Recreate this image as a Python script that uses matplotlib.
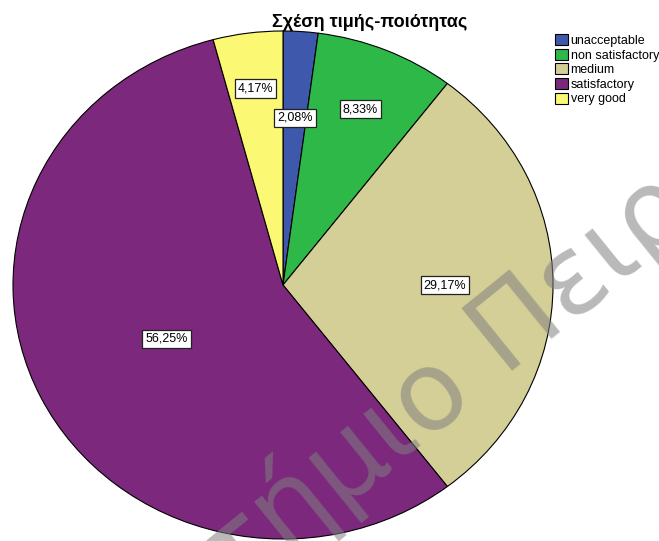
import numpy as np
import matplotlib
matplotlib.use("Agg")
import matplotlib.pyplot as plt

plt.rcParams["font.family"] = ["Liberation Sans", "DejaVu Sans"]

# Σχέση τιμής-ποιότητας: πλήθος απαντήσεων ανά κατηγορία (Ν = 48)
categories = ["unacceptable", "non satisfactory", "medium", "satisfactory", "very good"]
counts = [1, 4, 14, 27, 2]
colors = ["#3E58AC", "#2EB848", "#D4CE97", "#7C287C", "#FBF873"]

# απόσταση της ετικέτας από το κέντρο (σε μονάδες ακτίνας)
label_radius = [0.66, 0.75, 0.60, 0.48, 0.78]

W, H = 659, 541
fig = plt.figure(figsize=(W / 100, H / 100), dpi=100)
ax = fig.add_axes([13 / W, 2 / H, 540 / W, 508 / H])

wedges, _ = ax.pie(
    counts,
    colors=colors,
    startangle=90,
    counterclock=False,
    wedgeprops=dict(edgecolor="black", linewidth=0.8),
)
for w in wedges:
    w.set_clip_on(False)

# ελαφρώς ελλειπτική πίτα όπως στο SPSS
ax.set_aspect("auto")
ax.set_xlim(-1, 1)
ax.set_ylim(-1, 1)
ax.axis("off")

total = sum(counts)
cum = np.cumsum(counts)
for c, cs, r in zip(counts, cum, label_radius):
    pct = 100 * c / total
    theta = np.deg2rad(90 - 360 * (cs - c / 2) / total)
    txt = f"{pct:.2f}%".replace(".", ",")
    ax.text(
        r * np.cos(theta), r * np.sin(theta), txt,
        ha="center", va="center", fontsize=9, zorder=5,
        bbox=dict(boxstyle="square,pad=0.25", facecolor="white",
                  edgecolor="#222222", linewidth=0.9),
    )

fig.text(370 / W, 1 - 27 / H, "Σχέση τιμής-ποιότητας",
         ha="center", va="baseline", fontsize=13, fontweight="bold")

fig.legend(
    handles=wedges, labels=categories,
    loc="upper left", bbox_to_anchor=(555 / W, 1 - 34 / H),
    frameon=False, fontsize=9,
    handlelength=1.0, handleheight=1.0, handletextpad=0.25,
    labelspacing=0.14, borderpad=0, borderaxespad=0,
)

# υδατογράφημα: το κενό ανάμεσα στις δύο λέξεις πέφτει δεξιά από το κέντρο
wm_first = "Πανεπιστήμιο"
wm_text = wm_first + " Πειραιώς"
wm_font = "DejaVu Sans"
wm_size = 80
wm_rot = 39
renderer = fig.canvas.get_renderer()
probe = fig.text(0, 0, wm_first, fontsize=wm_size, family=wm_font)
w1 = probe.get_window_extent(renderer).width
probe.remove()
gap_x, gap_y = 477, 400  # σημείο της γραμμής βάσης μετά το "ο" (pixel από πάνω αριστερά)
a = np.deg2rad(wm_rot)
x0 = gap_x - w1 * np.cos(a)
y0 = gap_y + w1 * np.sin(a)
fig.text(x0 / W, 1 - y0 / H, wm_text, family=wm_font,
         ha="left", va="baseline", rotation=wm_rot, rotation_mode="anchor",
         fontsize=wm_size, color="0.5", alpha=0.55, zorder=10)

fig.savefig("out.png", dpi=100)
